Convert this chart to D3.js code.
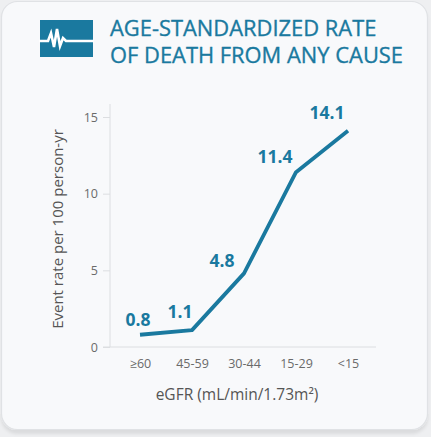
<!DOCTYPE html>
<html><head><meta charset="utf-8">
<script src="https://cdn.jsdelivr.net/npm/d3@7"></script>
<style>
html,body{margin:0;padding:0;background:#eeeff1;}
svg{display:block;}
</style></head>
<body>
<svg id="c" width="431" height="437"></svg>
<script>
const categories = ["≥60", "45-59", "30-44", "15-29", "<15"];
const values = [0.8, 1.1, 4.8, 11.4, 14.1];
const yTicks = [0, 5, 10, 15];
const titleLines = ["AGE-STANDARDIZED RATE", "OF DEATH FROM ANY CAUSE"];
const yTitle = "Event rate per 100 person-yr";
const xTitle = "eGFR (mL/min/1.73m²)";
const labelDx = [-2, -12, -22, -21, -21];
const labelDy = [-9, -12, -6, -9, -12];

const teal = "#1a799f";
const font = "'Open Sans', 'Noto Sans', sans-serif";
const svg = d3.select("#c");

const defs = svg.append("defs");
const f = defs.append("filter").attr("id","sh").attr("x","-5%").attr("y","-5%").attr("width","110%").attr("height","115%");
f.append("feDropShadow").attr("dx",0).attr("dy",4).attr("stdDeviation",1.5).attr("flood-color","#000").attr("flood-opacity",0.08);

svg.append("rect").attr("x",1.5).attr("y",1.5).attr("width",426).attr("height",428)
  .attr("rx",16).attr("fill","#f8f9fb").attr("stroke","#e0e2e5").attr("stroke-width",1.2)
  .attr("filter","url(#sh)");

// icon
const icon = svg.append("g");
icon.append("rect").attr("x",40).attr("y",20).attr("width",53).attr("height",37).attr("fill",teal);
icon.append("polyline")
  .attr("points","39,41 48,41 51,33 54,47 57,29 60,46 63,38 66,41 94,41")
  .attr("fill","none").attr("stroke","#fff").attr("stroke-width",2.6).attr("stroke-linejoin","miter");

// title (one text element, two lines)
const title = svg.append("text")
  .attr("fill",teal).attr("font-family",font).attr("font-size",21.9)
  .attr("stroke",teal).attr("stroke-width",0.35);
title.selectAll("tspan").data(titleLines).join("tspan")
  .attr("x",110).attr("y",(d,i)=>35.5+i*27).text(d=>d);

const x = d3.scalePoint().domain(categories).range([140, 348]);
const y = d3.scaleLinear().domain([0,15]).range([347,117]);

// y axis
const yAxis = svg.append("g").attr("transform","translate(110,0)")
  .call(d3.axisLeft(y).tickValues(yTicks).tickSize(7).tickPadding(5));
yAxis.select(".domain").attr("stroke","#dcdee1").attr("d","M0,104V347");
yAxis.selectAll(".tick line").attr("stroke","#dcdee1");
yAxis.selectAll(".tick text").attr("fill","#6a6a6a").attr("font-family",font).attr("font-size",12.5);

// x axis
const xAxis = svg.append("g").attr("transform","translate(0,347)")
  .call(d3.axisBottom(x).tickSize(0).tickPadding(12));
xAxis.select(".domain").attr("stroke","#dcdee1").attr("d","M103,0H376");
xAxis.selectAll(".tick text").attr("fill","#6a6a6a").attr("font-family",font).attr("font-size",12.5);

// line
svg.append("path").datum(values)
  .attr("fill","none").attr("stroke",teal).attr("stroke-width",3.8).attr("stroke-linejoin","round")
  .attr("d", d3.line().x((d,i)=>x(categories[i])).y(d=>y(d)));

// labels
svg.append("g").selectAll("text").data(values).join("text")
  .attr("x",(d,i)=>x(categories[i])+labelDx[i])
  .attr("y",(d,i)=>y(d)+labelDy[i])
  .attr("text-anchor","middle").attr("fill",teal).attr("font-family",font)
  .attr("font-weight","bold").attr("font-size",17.5).text(d=>d.toFixed(1));

// axis titles
svg.append("text").attr("transform","translate(63,229) rotate(-90)")
  .attr("text-anchor","middle").attr("fill","#555").attr("font-family",font).attr("font-size",15)
  .text(yTitle);
svg.append("text").attr("x",237).attr("y",400)
  .attr("text-anchor","middle").attr("fill","#555").attr("font-family",font).attr("font-size",15.5)
  .text(xTitle);
</script>
</body></html>
